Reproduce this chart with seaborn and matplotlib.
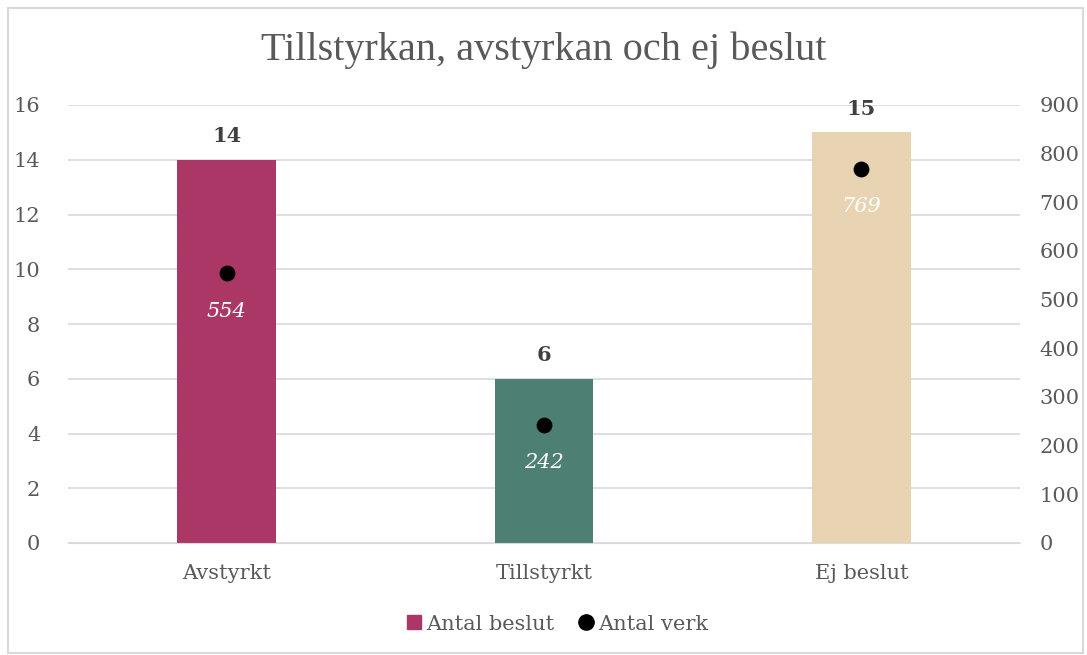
import matplotlib.pyplot as plt
import seaborn as sns
import pandas as pd
from matplotlib.patches import Rectangle
from matplotlib.lines import Line2D

categories = ["Avstyrkt", "Tillstyrkt", "Ej beslut"]
antal_beslut = [14, 6, 15]
antal_verk = [554, 242, 769]
colors = ["#AA3766", "#4E7F73", "#E8D3B2"]

df = pd.DataFrame({"kat": categories, "beslut": antal_beslut, "verk": antal_verk})

sns.set_style("white")
plt.rcParams['font.family'] = ['DejaVu Serif']
txt = "#595959"

fig = plt.figure(figsize=(10.87, 6.55), dpi=100)
W, H = 1087, 655
ax = fig.add_axes([68 / W, (H - 543) / H, 952 / W, 438 / H])

sns.barplot(data=df, x="kat", y="beslut", hue="kat", palette=colors,
            width=0.31, ax=ax, legend=False, saturation=1, linewidth=0)
ax.set_ylim(0, 16)
ax.set_yticks(range(0, 17, 2))
ax.set_xlim(-0.5, 2.5)
ax.yaxis.grid(True, color="#D9D9D9", lw=1.2)
ax.set_axisbelow(True)
for s in ax.spines.values():
    s.set_visible(False)
ax.spines["bottom"].set_visible(True)
ax.spines["bottom"].set_color("#D9D9D9")
ax.set_xlabel("")
ax.set_ylabel("")
ax.tick_params(axis="both", length=0, colors=txt, labelsize=15)
ax.tick_params(axis="x", pad=15)
ax.tick_params(axis="y", pad=20)

for i, v in enumerate(antal_beslut):
    ax.text(i, v + 0.5, str(v), ha="center", va="bottom", fontsize=15,
            fontweight="bold", color="#404040")

ax2 = ax.twinx()
sns.scatterplot(data=df, x="kat", y="verk", color="black", s=130, ax=ax2,
                zorder=5, linewidth=0)
ax2.set_ylim(0, 900)
ax2.set_yticks(range(0, 901, 100))
for s in ax2.spines.values():
    s.set_visible(False)
ax2.set_ylabel("")
ax2.tick_params(axis="y", length=0, colors=txt, labelsize=15, pad=14)
for i, v in enumerate(antal_verk):
    ax2.text(i, v - 58, str(v), ha="center", va="top", fontsize=15,
             fontstyle="italic", color="white")

fig.text(0.5, (H - 50) / H, "Tillstyrkan, avstyrkan och ej beslut",
         ha="center", va="center", fontsize=29, color=txt,
         family="Liberation Serif")

handles = [
    Line2D([], [], marker="s", color=colors[0], ls="", markersize=10),
    Line2D([], [], marker="o", color="black", ls="", markersize=11),
]
fig.legend(handles, ["Antal beslut", "Antal verk"], loc="center",
           bbox_to_anchor=(556 / W, (H - 624) / H), ncol=2, frameon=False,
           fontsize=15, labelcolor=txt, handletextpad=0.1, columnspacing=1.0,
           handlelength=1)

fig.patches.append(Rectangle((8 / W, 2 / H), (W - 12) / W, (H - 10) / H,
                             transform=fig.transFigure, fill=False,
                             edgecolor="#D9D9D9", lw=1.5))

fig.savefig("out.png", dpi=100)
